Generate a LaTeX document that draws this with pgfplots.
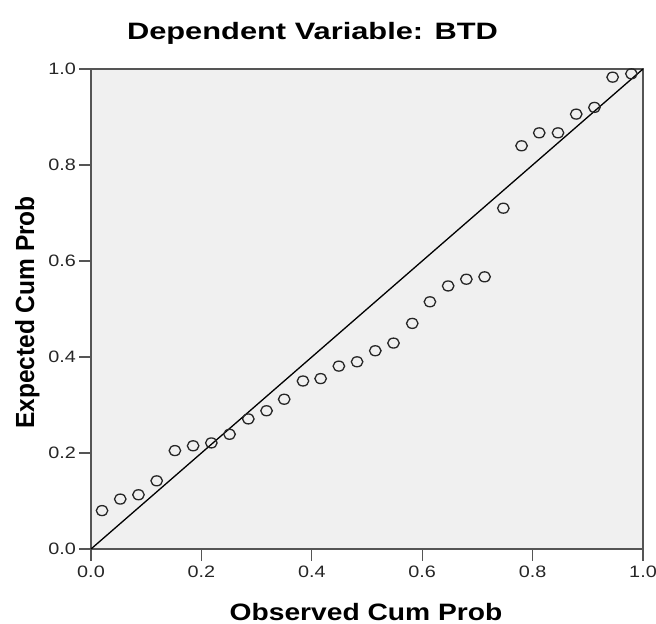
\documentclass[border=0pt]{standalone}
\usepackage{pgfplots}
\pgfplotsset{compat=1.18}
\usepackage{fontspec}
\setmainfont{Liberation Sans}
\definecolor{bgfill}{HTML}{F0F0F0}
\definecolor{frame}{HTML}{555555}
\begin{document}
\begin{tikzpicture}
\path[use as bounding box] (0,0) rectangle (656bp,624bp);
\begin{axis}[
  at={(91bp,75bp)}, anchor=south west,
  width=552bp, height=480bp, scale only axis,
  xmin=0, xmax=1, ymin=0, ymax=1,
  xtick={0,0.2,0.4,0.6,0.8,1}, ytick={0,0.2,0.4,0.6,0.8,1},
  xtick pos=bottom, ytick pos=left,
  tick align=outside, major tick length=12bp,
  tick style={draw=frame, line width=1.3bp},
  axis line style={draw=frame, line width=1.6bp},
  axis background/.style={fill=bgfill},
  /pgf/number format/assume math mode=true,
  xticklabel={\scalebox{1.2}[1]{\pgfmathprintnumber[fixed,fixed zerofill,precision=1]{\tick}}},
  yticklabel={\scalebox{1.2}[1]{\pgfmathprintnumber[fixed,fixed zerofill,precision=1]{\tick}}},
  ticklabel style={font=\fontsize{16.5bp}{19bp}\selectfont, text=black!85},
  xticklabel style={anchor=north, inner sep=0pt, yshift=-5bp},
  yticklabel style={anchor=east, inner sep=0pt, xshift=-3bp},
  clip=false,
]
\addplot[black, line width=1.3bp, no marks] coordinates {(0,0) (1,1)};
\addplot[only marks, mark=o, mark size=5bp, mark options={xscale=1.15, draw=black!85, line width=1.3bp}] coordinates {
(0.020,0.080) (0.053,0.104) (0.086,0.113) (0.119,0.142) (0.152,0.205)
(0.185,0.215) (0.218,0.221) (0.251,0.239) (0.285,0.271) (0.318,0.288)
(0.350,0.312) (0.384,0.350) (0.416,0.355) (0.449,0.381) (0.482,0.390)
(0.515,0.413) (0.548,0.429) (0.582,0.470) (0.614,0.515) (0.647,0.548)
(0.680,0.562) (0.713,0.567) (0.747,0.710) (0.780,0.840) (0.812,0.867)
(0.846,0.867) (0.879,0.906) (0.912,0.920) (0.945,0.983) (0.979,0.990)
};
\end{axis}
\node[anchor=base, inner sep=0pt] at (312.5bp,584bp) {\scalebox{1.3}[1]{\fontsize{23.7bp}{28bp}\selectfont\bfseries Dependent Variable: BTD}};
\node[anchor=base, inner sep=0pt] at (366bp,3.5bp) {\scalebox{1.19}[1]{\fontsize{23.7bp}{28bp}\selectfont\bfseries Observed Cum Prob}};
\node[anchor=base, inner sep=0pt, rotate=90] at (34bp,311.5bp) {\scalebox{1}[1.07]{\fontsize{24.5bp}{28bp}\selectfont\bfseries Expected Cum Prob}};
\end{tikzpicture}
\end{document}
